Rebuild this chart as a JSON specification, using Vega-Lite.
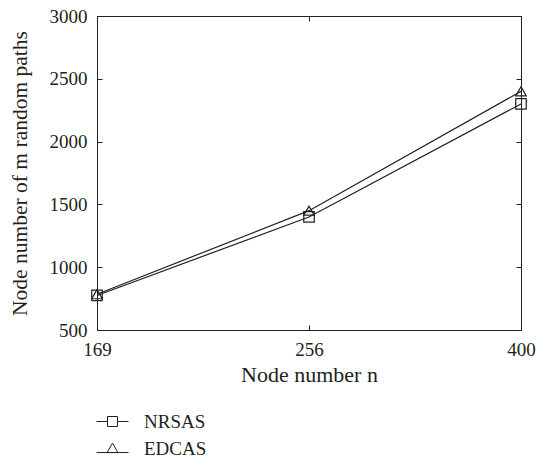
{
  "$schema": "https://vega.github.io/schema/vega-lite/v6.json",
  "width": 424,
  "height": 314,
  "autosize": {"type": "none"},
  "padding": {"left": 97, "top": 16, "right": 15, "bottom": 134},
  "background": "white",
  "config": {
    "font": "Liberation Serif, Times New Roman, serif",
    "view": {"stroke": null},
    "axis": {
      "grid": false,
      "domainColor": "#231f20",
      "domainWidth": 1,
      "tickColor": "#231f20",
      "tickWidth": 1,
      "tickSize": -5,
      "labelColor": "#231f20",
      "titleColor": "#231f20",
      "labelFont": "Liberation Serif, Times New Roman, serif",
      "titleFont": "Liberation Serif, Times New Roman, serif",
      "labelFontSize": 19,
      "titleFontSize": 22,
      "titleFontWeight": "normal"
    },
    "legend": {"labelFont": "Liberation Serif, Times New Roman, serif"}
  },
  "data": {
    "values": [
      {"n": 169, "value": 775, "series": "NRSAS"},
      {"n": 256, "value": 1400, "series": "NRSAS"},
      {"n": 400, "value": 2300, "series": "NRSAS"},
      {"n": 169, "value": 785, "series": "EDCAS"},
      {"n": 256, "value": 1450, "series": "EDCAS"},
      {"n": 400, "value": 2400, "series": "EDCAS"}
    ]
  },
  "layer": [
    {
      "mark": {"type": "line", "color": "#231f20", "strokeWidth": 1.2},
      "encoding": {
        "x": {
          "field": "n",
          "type": "ordinal",
          "scale": {"padding": 0},
          "axis": {"orient": "bottom", "title": "Node number n", "labelAngle": 0, "labelPadding": 15, "titlePadding": 5}
        },
        "y": {
          "field": "value",
          "type": "quantitative",
          "scale": {"domain": [500, 3000], "nice": false},
          "axis": {"orient": "left", "title": "Node number of m random paths", "format": "d", "values": [500, 1000, 1500, 2000, 2500, 3000], "labelPadding": 15, "titlePadding": 18, "titleFontSize": 21.5}
        },
        "detail": {"field": "series", "type": "nominal"}
      }
    },
    {
      "mark": {"type": "point", "filled": false, "color": "#231f20", "strokeWidth": 1.2, "size": 110, "opacity": 1},
      "encoding": {
        "x": {
          "field": "n",
          "type": "ordinal",
          "axis": {"orient": "top", "labels": false, "title": null}
        },
        "y": {
          "field": "value",
          "type": "quantitative",
          "axis": {"orient": "right", "labels": false, "title": null, "values": [500, 1000, 1500, 2000, 2500, 3000]}
        },
        "shape": {
          "field": "series",
          "type": "nominal",
          "scale": {"domain": ["NRSAS", "EDCAS"], "range": ["square", "triangle-up"]},
          "legend": null
        }
      }
    },
    {
      "mark": {"type": "point", "filled": false, "color": "#231f20", "strokeWidth": 1, "opacity": 0},
      "encoding": {
        "x": {"field": "n", "type": "ordinal", "axis": null},
        "y": {"field": "value", "type": "quantitative", "axis": null},
        "shape": {
          "field": "series",
          "type": "nominal",
          "scale": {
            "domain": ["NRSAS", "EDCAS"],
            "range": [
              "M-1.185,0H-0.37M0.37,0H1.185M-0.37,-0.37H0.37V0.37H-0.37Z",
              "M-1.185,0.3H1.185M0,-0.4L0.4,0.3L-0.4,0.3Z"
            ]
          },
          "legend": {
            "orient": "none",
            "legendX": 1.5,
            "legendY": 391.5,
            "title": null,
            "padding": 0,
            "rowPadding": 3,
            "symbolSize": 729,
            "symbolOpacity": 1,
            "symbolStrokeColor": "#231f20",
            "symbolStrokeWidth": 1,
            "symbolFillColor": "transparent",
            "labelFont": "Liberation Serif, Times New Roman, serif",
            "labelFontSize": 19,
            "labelColor": "#231f20",
            "labelOffset": 17.5
          }
        }
      }
    }
  ],
  "resolve": {
    "axis": {"x": "independent", "y": "independent"},
    "scale": {"shape": "independent"}
  }
}
